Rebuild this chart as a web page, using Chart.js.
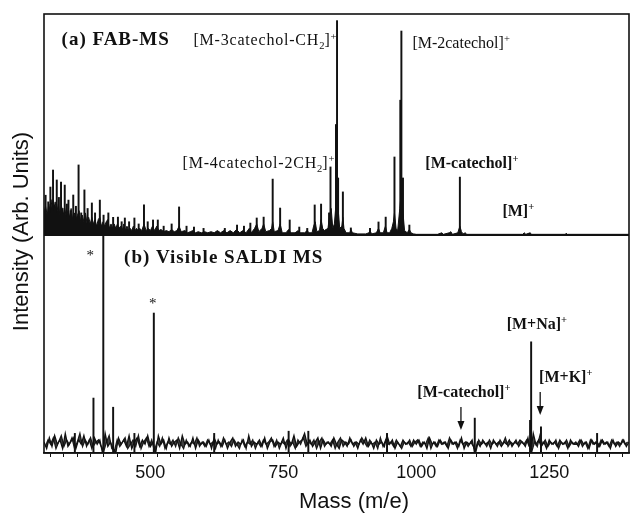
<!DOCTYPE html>
<html><head><meta charset="utf-8">
<script src="https://cdn.jsdelivr.net/npm/chart.js@4/dist/chart.umd.min.js"></script>
<style>html,body{margin:0;padding:0;background:#fff}#c{display:block}</style>
</head><body>
<canvas id="c" width="634" height="514"></canvas>
<script>
// ---------- data ----------
const xTickLabels = [500, 750, 1000, 1250];

// (a) FAB-MS: sharp peak lines [mass, intensity]
const fabPeaks = [
 [303,18],[308,15],[312,21.7],[317,29.4],[320,13],[324,24.9],[328,17],[332,24],[335,12],[339,22.6],
 [343,14],[346,15.8],[350,11],[355,18.1],[360,13],[365,31.7],[370,10],[376,20.4],[382,12],[390,14.5],
 [396,10],[405,15.8],[412,9],[421,10],[430,8],[439,8.1],[446,6],[452,7.7],[460,6],[470,7.7],
 [478,5],[488,13.6],[495,6],[505,6.8],[514,6.8],[525,4],[540,5],[554,12.7],[568,4],[582,3.6],
 [600,3],[640,3],[663,4.5],[676,4],[688,5.4],[700,7.7],[713,8.1],[730,25.3],[744,12.2],[762,6.8],
 [780,3.6],[795,3],[809,13.6],[821,14],[836,10],[838.7,30.8],[849,50],[851,97],[853,25.8],[862,19.5],
 [877,3.2],[913,3],[929,5.9],[942.5,8.1],[959,35.3],[970,61],[972,92.3],[975,25.8],[987,4.5],[1082,26.2]
];

// (a) FAB-MS: filled isotope-cluster envelope [mass, intensity]
const fabEnvelope = [
 [300,0],[301,11],[303,13],[306,9],[309,14],[312,10],[315,16],[318,11],[321,15],[324,10],[327,14],[330,9],
 [333,13],[336,9],[339,12],[342,8],[345,11],[348,8],[351,12],[354,7],[357,10],[360,7],[363,9],[366,11],
 [369,6],[372,9],[375,6],[378,10],[381,5],[384,8],[387,5],[390,8],[393,5],[396,7],[399,4],[402,7],
 [405,8],[408,4],[411,6],[414,4],[417,6],[420,7],[423,3],[426,5],[429,3],[432,5],[435,3],[438,5],
 [441,3],[444,4],[447,2],[450,5],[453,2],[456,4],[459,2],[462,3],[465,2],[468,4],[471,2],[474,3],
 [477,2],[480,3],[484,2],[488,5],[492,2],[496,3],[500,2],[504,4],[508,2],[512,4],[516,2],[520,2.5],
 [525,1.5],[530,2],[535,1.5],[540,2.5],[545,1.5],[550,2],[554,4],[558,1.5],[565,2],[570,1],[575,1.5],
 [580,2],[585,1],[590,1.5],[596,1],[602,1.5],[608,1],[614,1.5],[620,1],[626,2],[632,1],[638,2],[644,1],
 [650,2],[656,1],[662,2.5],[668,1],[674,2],[680,1],[686,3],[690,1],[696,3],[700,5],[704,1.5],[710,3],
 [713,5],[717,1.5],[724,2],[728,3],[730,6],[733,1.5],[740,2],[744,5],[748,1],[755,1],[760,2.5],[764,1],
 [772,1],[778,2],[782,1],[790,1],[795,2],[798,1],[804,1],[807,4],[810,6],[813,1.5],[818,2],[821,7],
 [824,3],[827,2],[834,3],[837,9],[840,12],[843,3],[846,5],[849,14],[851,20],[853,12],[856,3],[860,4],
 [862,8],[864,3],[868,1],[875,1],[877,2.5],[880,1],[890,0.5],[905,0.5],[911,1],[913,2],[916,0.5],
 [925,1],[929,3],[932,1],[938,1],[942,4],[945,1],[950,1],[954,3],[957,6],[959,10],[962,3],[965,2],
 [969,12],[972,20],[975,10],[978,2],[983,1],[987,2.5],[990,1],[995,0.5],[1000,0.3],[1040,0.3],[1048,1],
 [1051,0.3],[1062,1],[1065,1.5],[1068,0.3],[1078,1],[1082,4],[1085,1.5],[1088,0.5],[1092,1],[1095,0.3],
 [1200,0.3],[1203,1],[1206,0.3],[1214,1],[1217,0.3],[1280,0.3],[1282,0.8],[1284,0.3],[1400,0.3]
];

// (b) Visible SALDI MS: peak lines [mass, intensity]
const saldiPeaks = [
 [358,9],[393,25.2],[411.5,100],[430,21],[470,9],[506.5,64.2],[620,9],[760,10],[797,10],[945,9],
 [1110,16],[1214,15],[1216,51],[1234.5,12],[1340,9]
];

// (b) noise baseline, scan 1: one value every 5 mass units from 300 to 1400
const saldiNoiseStart = 300, saldiNoiseStep = 5;
const saldiNoise = [
 5,2,7,3,8,4,6,2,9,3,5,7,2,6,4,8,3,6,2,7,
 4,6,0,9,3,5,2,0,7,4,6,3,8,2,5,7,3,6,4,8,
 3,5,0,8,4,6,2,7,3,5,6,2,8,4,5,3,7,2,6,4,
 5,3,6,2,7,4,5,3,6,2,5,7,3,5,4,6,2,8,3,5,
 4,6,3,7,2,5,6,3,5,4,7,2,6,4,8,3,5,6,9,4,
 6,3,5,7,2,6,4,5,3,7,4,2,6,5,3,7,4,5,2,6,
 4,7,3,5,2,6,4,5,3,8,4,6,2,5,3,6,4,5,3,6,
 4,6,3,5,2,7,4,5,3,6,4,5,2,6,4,5,3,7,2,5,
 4,6,0,5,3,6,4,5,2,6,4,5,3,5,4,6,3,5,4,6,
 5,3,7,0,9,4,6,3,5,2,6,4,5,3,6,4,5,2,6,4,
 5,3,6,4,5,2,6,4,5,3,6,4,5,2,6,3,5,4,6,3,
 5
];
// (b) noise baseline, scan 2: one value every 5 mass units from 302.5 to 1397.5
const saldiNoise2Start = 302.5;
const saldiNoise2 = [
 3,6,4,7,2,5,8,3,6,4,7,2,5,9,3,6,4,7,3,5,
 6,3,1,5,8,2,1,6,3,5,7,2,4,6,3,8,2,5,7,3,
 6,1,5,3,7,2,5,4,6,3,7,4,2,6,3,5,4,7,3,5,
 3,6,4,5,2,6,3,7,4,5,3,6,4,2,6,3,5,4,6,2,
 5,3,6,4,5,7,3,6,2,5,4,6,3,5,2,6,4,7,3,5,
 4,6,2,5,7,3,5,4,6,2,5,7,3,5,4,6,3,5,4,7,
 5,3,6,4,5,2,7,3,6,4,5,3,6,4,2,5,4,6,3,5,
 6,3,5,4,7,2,5,3,6,4,5,3,7,4,5,2,6,4,5,3,
 5,3,1,6,4,5,3,6,4,5,3,6,4,7,3,5,4,6,3,5,
 4,6,3,1,5,3,8,4,6,3,5,4,6,2,5,4,6,3,5,4,
 4,6,3,5,2,6,4,5,3,6,4,5,3,6,4,5,3,6,4,5
];

// ---------- annotations (text placed in data coordinates) ----------
const labels = [
 {axis:'ya', x:333,   y:88.7, parts:[['(a) FAB-MS']], size:19, bold:true, ls:1},
 {axis:'ya', x:581,   y:88.2, parts:[['[M-3catechol-CH'],['2','sub'],[']'],['+','sup']], size:16, bold:false, ls:0.8},
 {axis:'ya', x:992.7, y:86.9, parts:[['[M-2catechol]'],['+','sup']], size:16, bold:false, ls:0},
 {axis:'ya', x:560.5, y:32.6, parts:[['[M-4catechol-2CH'],['2','sub'],[']'],['+','sup']], size:16, bold:false, ls:0.8},
 {axis:'ya', x:1017,  y:32.6, parts:[['[M-catechol]'],['+','sup']], size:16, bold:true, ls:0},
 {axis:'ya', x:1162,  y:10.9, parts:[['[M]'],['+','sup']], size:16, bold:true, ls:0},
 {axis:'yb', x:450.6, y:89.9, parts:[['(b) Visible SALDI MS']], size:19, bold:true, ls:1},
 {axis:'yb', x:1170,  y:59.2, parts:[['[M+Na]'],['+','sup']], size:16, bold:true, ls:0},
 {axis:'yb', x:1231,  y:34.9, parts:[['[M+K]'],['+','sup']], size:16, bold:true, ls:0},
 {axis:'yb', x:1002,  y:28,   parts:[['[M-catechol]'],['+','sup']], size:16, bold:true, ls:0}
];
const stars = [{axis:'yb', x:387, y:92.2},{axis:'yb', x:504.7, y:70.2}];
const arrows = [{axis:'yb', x:1084, y1:21.1, y2:10.6},{axis:'yb', x:1233, y1:28, y2:17.4}];

// ---------- chart ----------
const SERIF = '"Liberation Serif","Times New Roman",serif';
const SANS = '"Liberation Sans",Arial,Helvetica,sans-serif';
const INK = '#111';

const toXY = a => a.map(p => ({x:p[0], y:p[1]}));
const noiseXY = saldiNoise.map((v,i) => ({x: saldiNoiseStart + i*saldiNoiseStep, y: v}));
const noise2XY = saldiNoise2.map((v,i) => ({x: saldiNoise2Start + i*saldiNoiseStep, y: v}));

function drawRich(ctx, parts, x, y, size, bold, ls){
  let cx = x;
  for (const [t,k] of parts){
    const fs = k ? size*0.66 : size;
    ctx.font = (bold?'bold ':'') + fs + 'px ' + SERIF;
    if ('letterSpacing' in ctx) ctx.letterSpacing = (k ? 0 : (ls||0)) + 'px';
    const dy = k==='sub' ? size*0.22 : (k==='sup' ? -size*0.36 : 0);
    ctx.fillText(t, cx, y+dy);
    cx += ctx.measureText(t).width;
  }
  if ('letterSpacing' in ctx) ctx.letterSpacing = '0px';
}

const deco = {
  id:'deco',
  afterDraw(chart){
    const {ctx, chartArea:a, scales} = chart;
    const X = scales.x;
    ctx.save();
    ctx.strokeStyle = INK;
    ctx.lineWidth = 1.6;
    ctx.strokeRect(a.left, a.top, a.right-a.left, a.bottom-a.top);
    const div = scales.ya.top < scales.yb.top ? scales.ya.bottom : scales.yb.bottom;
    ctx.lineWidth = 2;
    ctx.beginPath(); ctx.moveTo(a.left, div); ctx.lineTo(a.right, div); ctx.stroke();

    ctx.fillStyle = INK;
    ctx.textAlign = 'left';
    ctx.textBaseline = 'alphabetic';
    for (const L of labels){
      const px = X.getPixelForValue(L.x);
      const py = scales[L.axis].getPixelForValue(L.y) + L.size*0.33;
      drawRich(ctx, L.parts, px, py, L.size, L.bold, L.ls);
    }
    ctx.textAlign = 'center';
    ctx.font = '15px ' + SERIF;
    for (const s of stars){
      ctx.fillText('*', X.getPixelForValue(s.x), scales[s.axis].getPixelForValue(s.y) + 8);
    }
    ctx.lineWidth = 1.3;
    for (const r of arrows){
      const px = X.getPixelForValue(r.x);
      const y1 = scales[r.axis].getPixelForValue(r.y1);
      const y2 = scales[r.axis].getPixelForValue(r.y2);
      ctx.beginPath(); ctx.moveTo(px, y1); ctx.lineTo(px, y2-6); ctx.stroke();
      ctx.beginPath(); ctx.moveTo(px-3.5, y2-9); ctx.lineTo(px+3.5, y2-9); ctx.lineTo(px, y2); ctx.closePath(); ctx.fill();
    }
    ctx.font = '22px ' + SANS;
    ctx.textAlign = 'center';
    ctx.textBaseline = 'alphabetic';
    ctx.fillText('Mass (m/e)', 354, 508);
    ctx.translate(28, 231.5);
    ctx.rotate(-Math.PI/2);
    ctx.fillText('Intensity (Arb. Units)', 0, 0);
    ctx.restore();
  }
};

const hiddenY = (weight) => ({
  type:'linear', position:'left', stack:'panels', stackWeight:weight,
  min:0, max:100,
  ticks:{display:false}, grid:{display:false, drawTicks:false}, border:{display:false},
  afterFit(s){ s.width = 44; }
});

new Chart(document.getElementById('c'), {
  data:{
    datasets:[
      {type:'line', data:toXY(fabEnvelope), yAxisID:'ya', borderColor:INK, backgroundColor:INK,
       borderWidth:1, pointRadius:0, fill:'origin', tension:0},
      {type:'bar', data:toXY(fabPeaks), yAxisID:'ya', backgroundColor:INK, barThickness:1.3, grouped:false},
      {type:'line', data:noiseXY, yAxisID:'yb', borderColor:INK, borderWidth:1.3, pointRadius:0, fill:false, tension:0},
      {type:'line', data:noise2XY, yAxisID:'yb', borderColor:'#1a1a1a', borderWidth:1.3, pointRadius:0,
       fill:'-1', backgroundColor:'rgba(20,20,20,0.8)', tension:0},
      {type:'bar', data:toXY(saldiPeaks), yAxisID:'yb', backgroundColor:INK, barThickness:1.3, grouped:false}
    ]
  },
  options:{
    responsive:false, animation:false, events:[],
    layout:{padding:{top:14, right:1, left:0, bottom:0}},
    plugins:{legend:{display:false}, tooltip:{enabled:false}, filler:{propagate:false}},
    scales:{
      x:{type:'linear', min:300, max:1400, offset:false,
         ticks:{stepSize:25, autoSkip:false, maxRotation:0, padding:5,
                font:{family:SANS, size:18}, color:INK,
                callback:v => xTickLabels.includes(v) ? String(v) : ''},
         grid:{display:true, drawOnChartArea:false, drawTicks:true, tickLength:4, color:INK, tickWidth:1},
         border:{display:true, color:INK, width:1.5},
         afterFit(s){ s.height = 61; }},
      yb: hiddenY(218),
      ya: hiddenY(221)
    }
  },
  plugins:[deco]
});
</script>
</body></html>
